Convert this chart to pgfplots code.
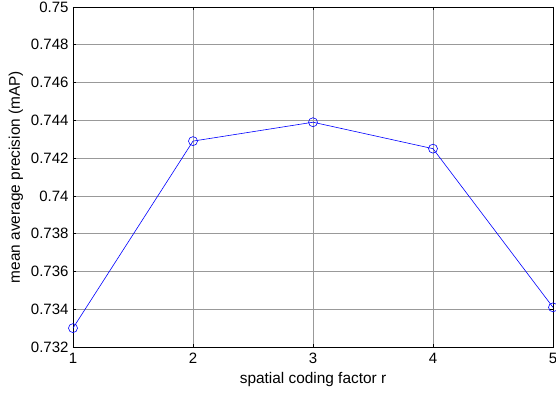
\documentclass[border=0pt]{standalone}
\usepackage{fontspec}
\setmainfont{Liberation Sans}
\usepackage{pgfplots}
\pgfplotsset{compat=1.18}
\begin{document}
\begin{tikzpicture}
\begin{axis}[
  name=ax,
  scale only axis,
  width=480bp, height=340bp,
  xmin=1, xmax=5, ymin=0.732, ymax=0.75,
  xtick={1,2,3,4,5},
  ytick distance=0.002,
  scaled y ticks=false,
  /pgf/number format/.cd, fixed, precision=3, assume math mode=true, /pgfplots/.cd,
  tick label style={font=\fontsize{15bp}{18bp}\selectfont},
  label style={font=\fontsize{15.4bp}{18bp}\selectfont},
  xlabel={spatial coding factor r},
  ylabel={mean average precision (mAP)},
  xticklabel style={yshift=-3bp},
  yticklabel style={xshift=-1bp},
  xlabel style={yshift=-1bp},
  ylabel style={yshift=1bp},
  grid=major,
  major grid style={gray!80, line width=0.6bp},
  tick align=inside,
  major tick length=3bp,
  tick style={black, line width=0.6bp},
  axis line style={black, line width=0.8bp},
  xtick pos=both, ytick pos=both,
]
\addplot[blue, line width=0.6bp, mark=o, mark size=4.5bp, mark options={line width=0.6bp}]
  coordinates {(1,0.7330) (2,0.7429) (3,0.7439) (4,0.7425) (5,0.7341)};
\end{axis}
\pgfresetboundingbox
\path[use as bounding box] ([shift={(-73bp,-46bp)}]ax.south west) rectangle ([shift={(3bp,7bp)}]ax.north east);
\end{tikzpicture}
\end{document}
